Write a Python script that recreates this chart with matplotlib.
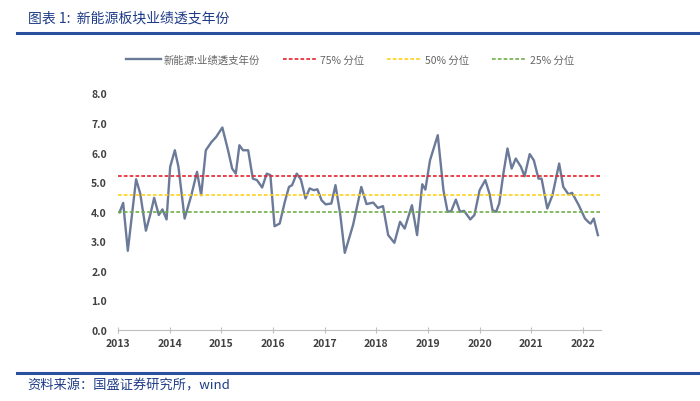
import matplotlib.pyplot as plt
from matplotlib.lines import Line2D

plt.rcParams['font.family'] = ['Noto Sans CJK SC', 'DejaVu Sans']

# monthly-ish readings of the series (fractional year, value)
years = [2013.03, 2013.10, 2013.19, 2013.35, 2013.43, 2013.54, 2013.63, 2013.70, 2013.79, 2013.86,
         2013.94, 2014.01, 2014.10, 2014.17, 2014.29, 2014.42, 2014.53, 2014.61, 2014.70, 2014.81,
         2014.90, 2015.02, 2015.13, 2015.21, 2015.28, 2015.35, 2015.42, 2015.52, 2015.61, 2015.69,
         2015.79, 2015.88, 2015.95, 2016.03, 2016.13, 2016.23, 2016.31, 2016.37, 2016.46, 2016.54,
         2016.63, 2016.71, 2016.79, 2016.86, 2016.94, 2017.02, 2017.13, 2017.21, 2017.30, 2017.39,
         2017.55, 2017.71, 2017.81, 2017.94, 2018.03, 2018.13, 2018.23, 2018.35, 2018.46, 2018.55,
         2018.61, 2018.69, 2018.79, 2018.89, 2018.95, 2019.04, 2019.19, 2019.30, 2019.38, 2019.45,
         2019.54, 2019.62, 2019.70, 2019.82, 2019.90, 2020.00, 2020.11, 2020.19, 2020.25, 2020.32,
         2020.38, 2020.46, 2020.54, 2020.62, 2020.70, 2020.80, 2020.87, 2020.97, 2021.05, 2021.14,
         2021.20, 2021.31, 2021.41, 2021.54, 2021.62, 2021.72, 2021.79, 2021.92, 2022.04, 2022.12,
         2022.15, 2022.21, 2022.29]
values = [3.98, 4.30, 2.68, 5.10, 4.62, 3.36, 3.94, 4.47, 3.89, 4.08,
          3.74, 5.52, 6.08, 5.52, 3.77, 4.56, 5.35, 4.56, 6.08, 6.36,
          6.53, 6.85, 6.08, 5.46, 5.29, 6.25, 6.08, 6.08, 5.12, 5.07,
          4.82, 5.29, 5.24, 3.51, 3.60, 4.34, 4.84, 4.90, 5.29, 5.09,
          4.45, 4.79, 4.73, 4.76, 4.39, 4.25, 4.28, 4.90, 3.94, 2.61,
          3.55, 4.84, 4.26, 4.31, 4.13, 4.19, 3.21, 2.95, 3.66, 3.43,
          3.77, 4.22, 3.21, 4.93, 4.75, 5.74, 6.59, 4.73, 4.00, 4.02,
          4.41, 4.00, 4.03, 3.74, 3.89, 4.73, 5.07, 4.62, 4.05, 4.00,
          4.28, 5.29, 6.14, 5.46, 5.80, 5.52, 5.20, 5.95, 5.74, 5.12,
          5.12, 4.11, 4.56, 5.63, 4.84, 4.59, 4.64, 4.22, 3.77, 3.63,
          3.60, 3.77, 3.21]

p75, p50, p25 = 5.20, 4.56, 3.99
year_ticks = list(range(2013, 2023))
y_ticks = [0, 1, 2, 3, 4, 5, 6, 7, 8]

line_c, red, yellow, green = '#6B7A99', '#E8212B', '#FFD11A', '#6FAE48'
dash = (0, (2.2, 1.3))

fig = plt.figure(figsize=(7, 4.02), dpi=100)
ax = fig.add_axes([118 / 700, 1 - 331 / 402, (601 - 118) / 700, (331 - 94.5) / 402])

ax.plot(years, values, color=line_c, lw=1.7, solid_joinstyle='round')
ax.axhline(p75, color=red, ls=dash, lw=1.2)
ax.axhline(p50, color=yellow, ls=dash, lw=1.2)
ax.axhline(p25, color=green, ls=dash, lw=1.2)

ax.set_xlim(2013, 2022.35)
ax.set_ylim(0, 8)
ax.set_xticks(year_ticks)
ax.set_xticklabels([str(y) for y in year_ticks], fontsize=7.5, fontweight='bold', color='#404040')
ax.set_yticks(y_ticks)
ax.set_yticklabels([f'{v:.1f}' for v in y_ticks], fontsize=7.5, fontweight='bold', color='#404040')
for s in ['top', 'right', 'left']:
    ax.spines[s].set_visible(False)
ax.spines['bottom'].set_color('#BFBFBF')
ax.tick_params(axis='x', direction='inout', length=4, color='#BFBFBF', pad=4)
ax.tick_params(axis='y', length=0, pad=8)

handles = [Line2D([], [], color=line_c, lw=1.7),
           Line2D([], [], color=red, ls=dash, lw=1.2),
           Line2D([], [], color=yellow, ls=dash, lw=1.2),
           Line2D([], [], color=green, ls=dash, lw=1.2)]
labels = ['新能源:业绩透支年份', '75% 分位', '50% 分位', '25% 分位']
leg = fig.legend(handles, labels, loc='center', bbox_to_anchor=(350 / 700, 1 - 61 / 402), ncol=4,
                 frameon=False, fontsize=7.5, handlelength=3.3, columnspacing=2.2, handletextpad=0.3)
for t in leg.get_texts():
    t.set_color('#666666')

# header / footer
fig.text(28 / 700, 1 - 19 / 402, '图表 1:  新能源板块业绩透支年份', fontsize=10, style='italic',
         color='#1F3C88', va='center', ha='left')
fig.add_artist(Line2D([17 / 700, 1.0], [1 - 34 / 402, 1 - 34 / 402], color='#2A4F9E', lw=2.2))
fig.add_artist(Line2D([17 / 700, 1.0], [1 - 374 / 402, 1 - 374 / 402], color='#2A4F9E', lw=2.2))
fig.text(27 / 700, 1 - 386 / 402, '资料来源：国盛证券研究所，wind', fontsize=9.5, style='italic',
         color='#1F3C88', va='center', ha='left')

fig.savefig('out.png', dpi=100)
